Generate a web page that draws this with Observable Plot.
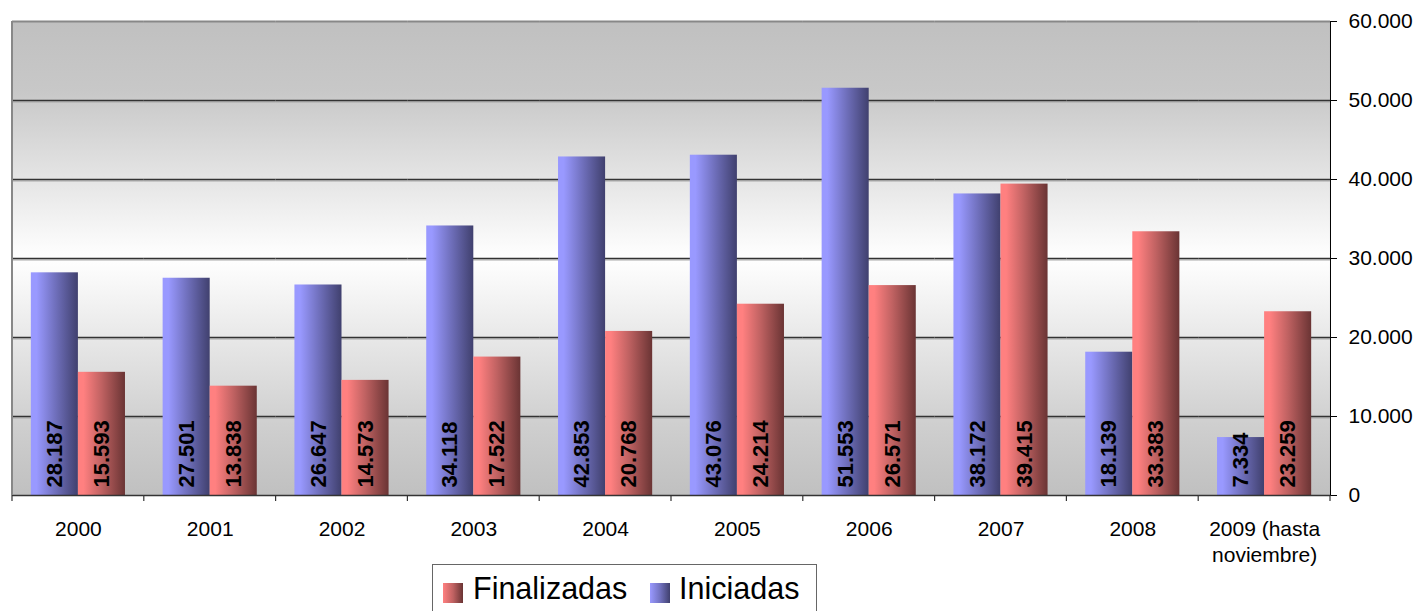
<!DOCTYPE html>
<html>
<head>
<meta charset="utf-8">
<script src="https://cdn.jsdelivr.net/npm/d3@7"></script>
<script src="https://cdn.jsdelivr.net/npm/@observablehq/plot@0.6"></script>
<style>
  html, body { margin: 0; padding: 0; background: #fff; overflow: hidden; }
  #wrap { position: relative; width: 1416px; height: 611px; font-family: "Liberation Sans", Arial, sans-serif; }
  #wrap svg { position: absolute; left: 0; top: 0; }
  #legend { position: absolute; left: 432px; top: 564px; width: 385px; height: 60px; border: 1.5px solid #666; background: #fff; box-sizing: border-box; }
  #legend .sw { position: absolute; top: 18px; width: 20px; height: 20px; }
  #legend .lb { position: absolute; top: 6px; font-size: 30.5px; line-height: 34px; color: #000; }
</style>
</head>
<body>
<div id="wrap"></div>
<script>
const years = ["2000", "2001", "2002", "2003", "2004", "2005", "2006", "2007", "2008", "2009"];
const yearLabels = ["2000", "2001", "2002", "2003", "2004", "2005", "2006", "2007", "2008", "2009 (hasta\nnoviembre)"];
const seriesNames = ["Iniciadas", "Finalizadas"];
const iniciadas = [28187, 27501, 26647, 34118, 42853, 43076, 51553, 38172, 18139, 7334];
const finalizadas = [15593, 13838, 14573, 17522, 20768, 24214, 26571, 39415, 33383, 23259];
const yTicks = [0, 10000, 20000, 30000, 40000, 50000, 60000];
const gridTicks = [10000, 20000, 30000, 40000, 50000];
const legendItems = ["Finalizadas", "Iniciadas"];

const fmt = v => d3.format(",")(v).replace(/,/g, ".");

const rows = years.flatMap((y, i) => [
  {year: y, series: "Iniciadas", value: iniciadas[i]},
  {year: y, series: "Finalizadas", value: finalizadas[i]}
]);
const rowsI = rows.filter(d => d.series === "Iniciadas");
const rowsF = rows.filter(d => d.series === "Finalizadas");

const plot = Plot.plot({
  width: 1416,
  height: 611,
  marginLeft: 12,
  marginRight: 86,
  marginTop: 21,
  marginBottom: 116,
  style: {fontFamily: "'Liberation Sans', Arial, sans-serif", fontSize: "21px", color: "#000", background: "transparent"},
  fx: {domain: years, padding: 0, round: false, axis: null},
  x: {domain: seriesNames, paddingInner: 0, paddingOuter: 0.4, round: false, axis: null},
  y: {domain: [0, 60000], axis: "right", ticks: yTicks, tickFormat: fmt, tickSize: 6, tickPadding: 12, label: null, line: true},
  marks: [
    Plot.ruleY(gridTicks, {stroke: "#a8a8a8", dy: 1.5, strokeWidth: 1}),
    Plot.ruleY(gridTicks, {stroke: "#333", strokeWidth: 1.5}),
    Plot.ruleY([60000], {stroke: "#888", strokeWidth: 2}),
    Plot.barY(rowsI, {fx: "year", x: "series", y: "value", fill: "url(#gradI)", inset: 0}),
    Plot.barY(rowsF, {fx: "year", x: "series", y: "value", fill: "url(#gradF)", inset: 0}),
    Plot.ruleY([0], {stroke: "#333", strokeWidth: 1.5}),
    Plot.text(rows, {fx: "year", x: "series", y: () => 0, text: d => fmt(d.value), rotate: -90, textAnchor: "start", lineAnchor: "middle", dy: -8, fontWeight: "bold", fontSize: 22, fill: "#000"}),
    Plot.text(years, {fx: d => d, text: (d, i) => yearLabels[i], frameAnchor: "bottom", dy: 22, lineAnchor: "top", lineHeight: 1.24, fontSize: 21, fill: "#000"})
  ]
});

document.getElementById("wrap").appendChild(plot);

const svg = d3.select(plot);
const defs = svg.insert("defs", ":first-child");
const bg = defs.append("linearGradient").attr("id", "bgGrad").attr("x1", 0).attr("y1", 0).attr("x2", 0).attr("y2", 1);
bg.append("stop").attr("offset", "0").attr("stop-color", "#c0c0c0");
bg.append("stop").attr("offset", "0.15").attr("stop-color", "#c8c8c8");
bg.append("stop").attr("offset", "0.5").attr("stop-color", "#ffffff");
bg.append("stop").attr("offset", "0.85").attr("stop-color", "#cfcfcf");
bg.append("stop").attr("offset", "1").attr("stop-color", "#c0c0c0");
function barGrad(id, light, mid, dark) {
  const g = defs.append("linearGradient").attr("id", id).attr("x1", 0).attr("y1", 0).attr("x2", 1).attr("y2", 0);
  g.append("stop").attr("offset", "0").attr("stop-color", light);
  g.append("stop").attr("offset", "0.12").attr("stop-color", light);
  g.append("stop").attr("offset", "0.5").attr("stop-color", mid);
  g.append("stop").attr("offset", "1").attr("stop-color", dark);
}
barGrad("gradI", "#9999ff", "#7272c0", "#40406e");
barGrad("gradF", "#ff8080", "#c06262", "#6a3434");

// plot-area background, category boundary ticks and left border, from the library's scales
const fxs = plot.scale("fx");
const ys = plot.scale("y");
const y0 = ys.apply(0), yTop = ys.apply(60000);
const edges = years.map(y => fxs.apply(y));
edges.push(fxs.apply(years[years.length - 1]) + fxs.bandwidth);
svg.insert("rect", "defs + *")
  .attr("x", edges[0]).attr("y", yTop)
  .attr("width", edges[edges.length - 1] - edges[0]).attr("height", y0 - yTop)
  .attr("fill", "url(#bgGrad)");
const gTicks = svg.append("g");
edges.forEach(x => {
  gTicks.append("line").attr("x1", x).attr("x2", x).attr("y1", y0).attr("y2", y0 + 6).attr("stroke", "#333").attr("stroke-width", 1.2);
});
gTicks.append("line").attr("x1", edges[0]).attr("x2", edges[0]).attr("y1", yTop).attr("y2", y0).attr("stroke", "#888").attr("stroke-width", 2);

// legend
const leg = document.createElement("div");
leg.id = "legend";
const grads = {Finalizadas: "linear-gradient(to right, #ff8080, #c06262 50%, #6a3434)", Iniciadas: "linear-gradient(to right, #9999ff, #7272c0 50%, #40406e)"};
const swX = [10, 217], lbX = [40, 246];
legendItems.forEach((name, i) => {
  const s = document.createElement("div"); s.className = "sw"; s.style.left = swX[i] + "px"; s.style.background = grads[name];
  const t = document.createElement("div"); t.className = "lb"; t.style.left = lbX[i] + "px"; t.textContent = name;
  leg.appendChild(s); leg.appendChild(t);
});
document.getElementById("wrap").appendChild(leg);
</script>
</body>
</html>
